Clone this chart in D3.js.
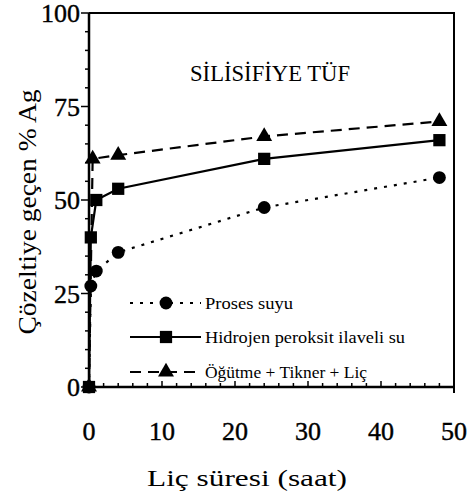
<!DOCTYPE html>
<html>
  <head>
    <meta charset="utf-8">
    <title>Silisifiye tüf</title>
    <script src="https://d3js.org/d3.v7.min.js"></script>
    <style>
      body { margin: 0; background: #fff; }
      svg text { font-family: 'Liberation Serif' !important; }
    </style>
  </head>
  <body>
    <svg id="chart" width="470" height="499"></svg>
  <script>
  // veriler
  var seriesNames = ["Proses suyu", "Hidrojen peroksit ilaveli su", "Öğütme + Tikner + Liç"];
  var prosesX = [0, 0.25, 1, 4, 24, 48];
  var prosesY = [0, 27, 31, 36, 48, 56];
  var hidrojenX = [0, 0.25, 1, 4, 24, 48];
  var hidrojenY = [0, 40, 50, 53, 61, 66];
  var ogutmeX = [0, 0.5, 4, 24, 48];
  var ogutmeY = [0, 61, 62, 67, 71];
  var xTicks = [0, 10, 20, 30, 40, 50];
  var yTicks = [0, 25, 50, 75, 100];

  var FONT = "'Liberation Serif'";
  var x = d3.scaleLinear().domain([0, 50]).range([89, 454]);
  var y = d3.scaleLinear().domain([0, 100]).range([387, 13]);

  var svg = d3.select("#chart");

  // çerçeve üst ve sağ
  svg.append("path")
      .attr("d", "M" + x(0) + "," + y(100) + "H" + x(50) + "V" + (y(0) + 6))
      .attr("fill", "none")
      .attr("stroke", "#000")
      .attr("stroke-width", 2);

  // y ekseni çentikleri
  svg.append("g")
    .selectAll("line")
    .data(d3.range(0, 101, 5))
    .enter()
    .append("line")
      .attr("x1", x(0)).attr("x2", d => x(0) - (d % 25 === 0 ? 8 : 4))
      .attr("y1", d => y(d)).attr("y2", d => y(d))
      .attr("stroke", "#000").attr("stroke-width", 1.5);
  svg.append("line")
      .attr("x1", x(0)).attr("x2", x(0))
      .attr("y1", y(0)).attr("y2", y(100))
      .attr("stroke", "#000").attr("stroke-width", 2.5);
  svg.selectAll(null)
      .data(yTicks)
      .enter()
      .append("text")
      .attr("x", 80)
      .attr("y", d => y(d) + 9)
      .attr("text-anchor", "end")
      .style("font-family", FONT)
      .style("font-size", "26px")
      .attr("stroke", "#000").attr("stroke-width", 0.4)
      .text(d => d);

  // x ekseni çentikleri
  svg.append("g")
    .selectAll("line")
    .data(d3.range(0, 51, 2))
    .enter()
    .append("line")
      .attr("x1", d => x(d)).attr("x2", d => x(d))
      .attr("y1", y(0)).attr("y2", d => y(0) - (d % 10 === 0 ? 6 : 4))
      .attr("stroke", "#000").attr("stroke-width", 1.5);
  svg.append("line")
      .attr("x1", x(0)).attr("x2", x(50))
      .attr("y1", y(0)).attr("y2", y(0))
      .attr("stroke", "#000").attr("stroke-width", 2.5);
  svg.selectAll(null)
      .data(xTicks)
      .enter()
      .append("text")
      .attr("x", d => x(d))
      .attr("y", 440)
      .attr("text-anchor", "middle")
      .style("font-family", FONT)
      .style("font-size", "26px")
      .attr("stroke", "#000").attr("stroke-width", 0.4)
      .text(d => d);

  // eksen başlıkları
  svg.append("text")
      .attr("transform", "translate(36," + ((y(0) + y(100)) / 2 + 12) + ") rotate(-90)")
      .attr("text-anchor", "middle")
      .style("font-family", FONT)
      .style("font-size", "25px")
      .attr("textLength", 245)
      .attr("lengthAdjust", "spacingAndGlyphs")
      .text("Çözeltiye geçen % Ag");
  svg.append("text")
      .attr("x", 247)
      .attr("y", 486)
      .attr("text-anchor", "middle")
      .style("font-family", FONT)
      .style("font-size", "23px")
      .attr("textLength", 200)
      .attr("lengthAdjust", "spacingAndGlyphs")
      .text("Liç süresi (saat)");

  svg.append("text")
      .attr("x", 190)
      .attr("y", 81)
      .style("font-family", FONT)
      .style("font-size", "24px")
      .attr("textLength", 160)
      .attr("lengthAdjust", "spacingAndGlyphs")
      .text("SİLİSİFİYE TÜF");

  // seriler
  var series = [
    { name: seriesNames[0], xs: prosesX, ys: prosesY, dash: "3,7", sym: d3.symbolCircle, size: 130 },
    { name: seriesNames[1], xs: hidrojenX, ys: hidrojenY, dash: null, sym: d3.symbolSquare, size: 150 },
    { name: seriesNames[2], xs: ogutmeX, ys: ogutmeY, dash: "11,7", sym: d3.symbolTriangle, size: 110 }
  ];

  var line = d3.line().x(d => x(d[0])).y(d => y(d[1]));

  series.forEach(s => {
    var pts = s.xs.map((v, i) => [v, s.ys[i]]);
    svg.append("path")
        .datum(pts)
        .attr("d", line)
        .attr("fill", "none")
        .attr("stroke", "#000")
        .attr("stroke-width", 2.2)
        .attr("stroke-dasharray", s.dash);
    svg.selectAll(null)
        .data(pts)
        .enter()
        .append("path")
        .attr("transform", d => "translate(" + x(d[0]) + "," + y(d[1]) + ")")
        .attr("d", d3.symbol().type(s.sym).size(s.size))
        .attr("fill", "#000");
  });

  // lejant
  var legY = [303, 337, 372];
  series.forEach((s, i) => {
    var g = svg.append("g").attr("transform", "translate(0," + legY[i] + ")");
    g.append("line")
        .attr("x1", 130).attr("x2", 201)
        .attr("stroke", "#000")
        .attr("stroke-width", 2.2)
        .attr("stroke-dasharray", s.dash);
    g.append("path")
        .attr("transform", "translate(166,0)")
        .attr("d", d3.symbol().type(s.sym).size(s.size))
        .attr("fill", "#000");
    g.append("text")
        .attr("x", 205)
        .attr("y", 6)
        .style("font-family", FONT)
        .style("font-size", "17px")
        .attr("textLength", [88, 200, 162][i])
        .attr("lengthAdjust", "spacingAndGlyphs")
        .text(s.name);
  });
  </script>
  </body>
</html>
